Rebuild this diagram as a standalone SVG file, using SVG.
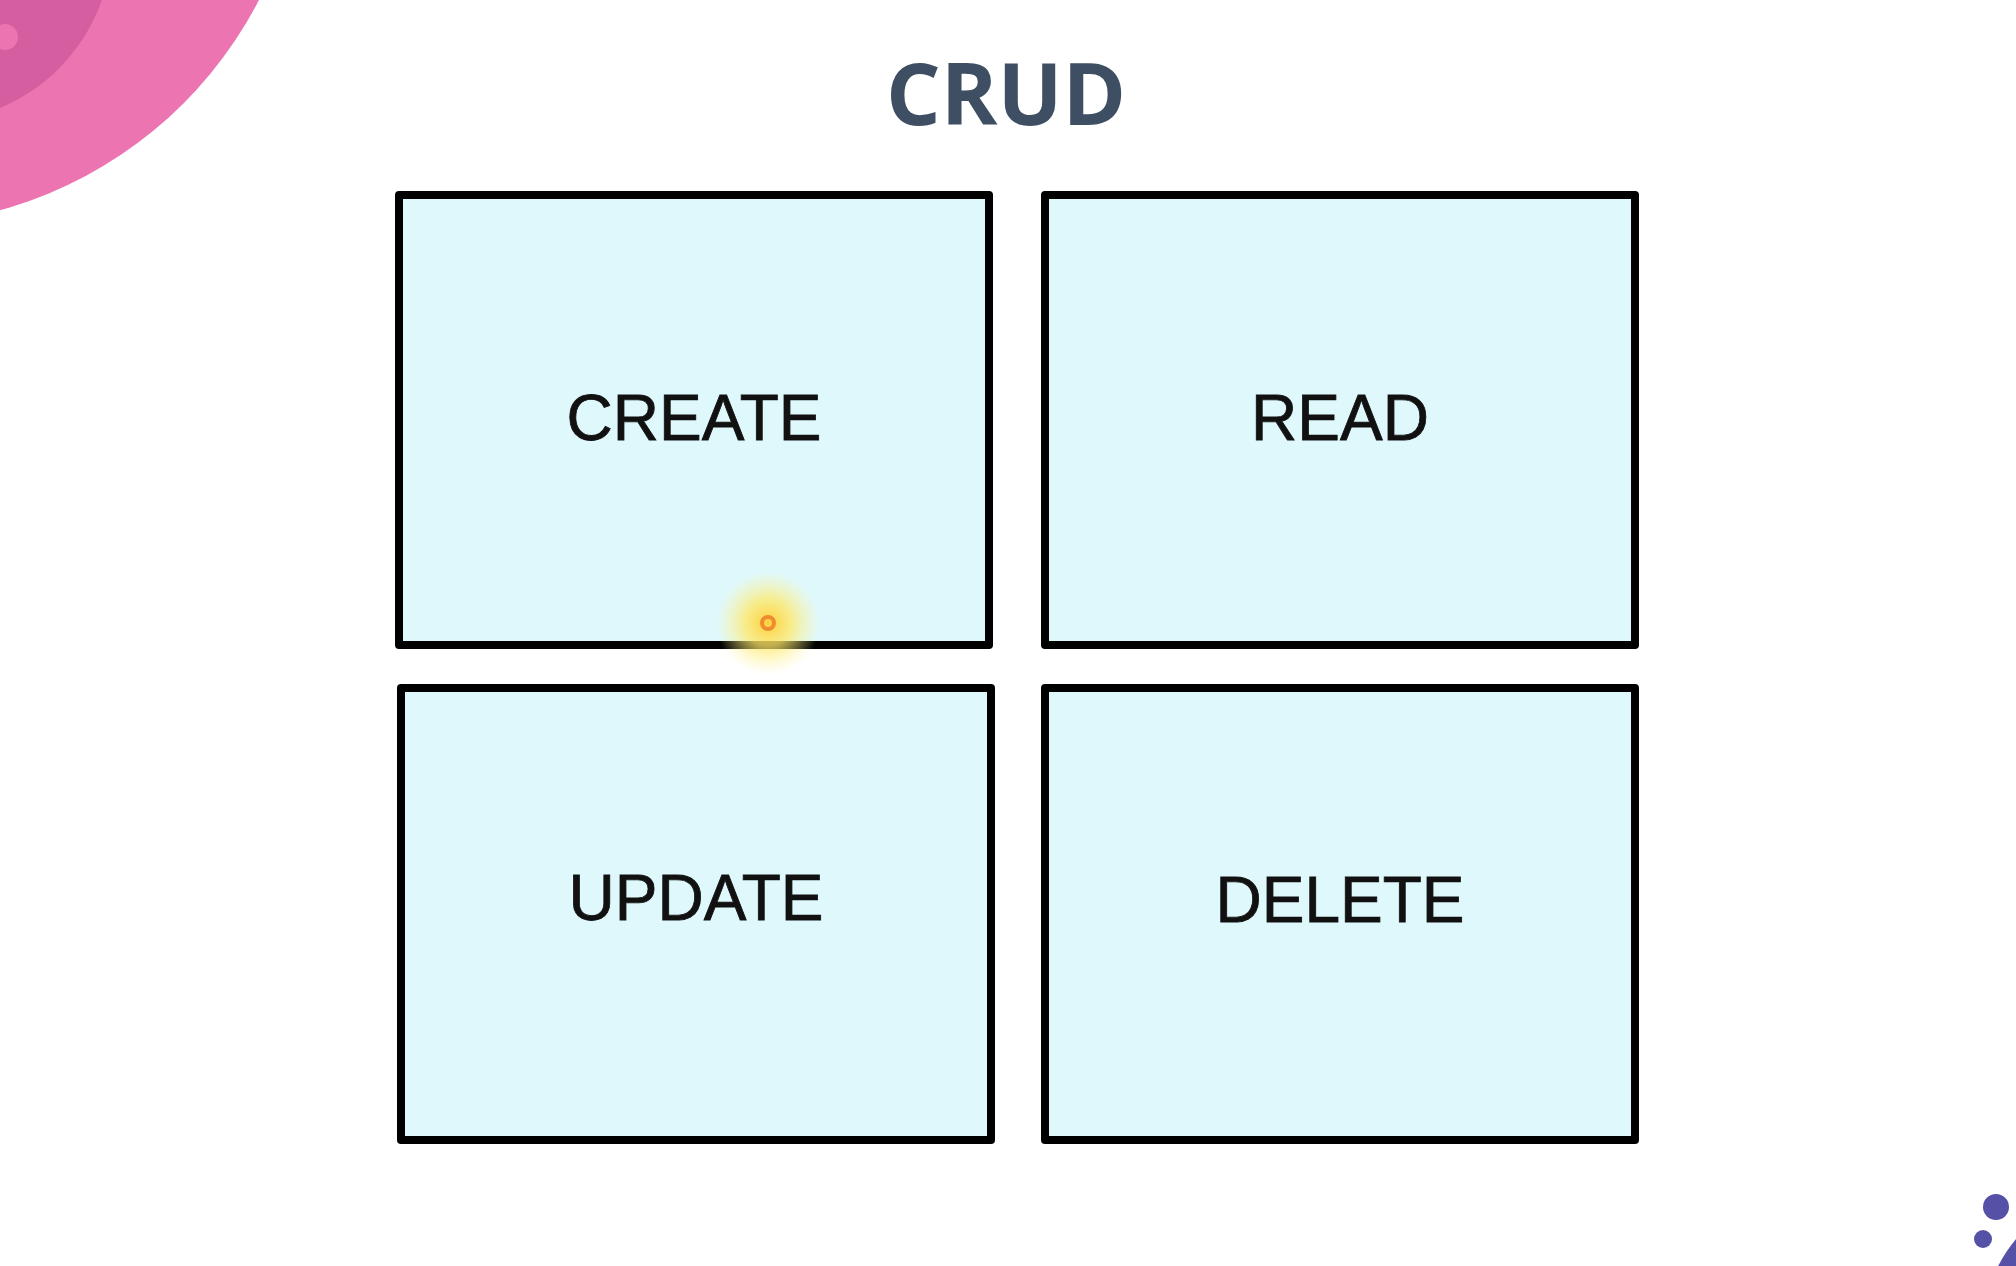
<svg xmlns="http://www.w3.org/2000/svg" width="2016" height="1266" viewBox="0 0 2016 1266">
<defs>
<style>
.box{fill:#dff8fc;stroke:#000;stroke-width:8;stroke-linejoin:round}
.lbl{font-family:"Liberation Sans",Arial,sans-serif;font-size:64px;fill:#111;stroke:#111;stroke-width:0.8;text-anchor:middle}
.title{font-family:"Open Sans","Noto Sans",sans-serif;font-weight:700;font-size:86px;fill:#3e4e63;text-anchor:middle}
</style>
<radialGradient id="glow" cx="0.5" cy="0.5" r="0.5">
<stop offset="0" stop-color="#ffcf3a" stop-opacity="1"/>
<stop offset="0.45" stop-color="#ffe866" stop-opacity="0.75"/>
<stop offset="1" stop-color="#fff59a" stop-opacity="0"/>
</radialGradient>
</defs>
<rect width="2016" height="1266" fill="#fff"/>
<g id="decor-pink">
<circle cx="-110" cy="-190" r="415" fill="#ec74b0"/>
<circle cx="-70" cy="-60" r="182" fill="#d45ea0"/>
<circle cx="5" cy="37" r="13" fill="#ec74b0"/>
</g>
<g id="decor-purple" fill="#5451a6">
<circle cx="1996" cy="1207" r="13"/>
<circle cx="1983" cy="1239" r="9"/>
<circle cx="2140" cy="1340" r="160"/>
</g>
<text class="title" x="1006" y="125">CRUD</text>
<g id="create"><rect class="box" x="399" y="195" width="590" height="450"/><text class="lbl" x="694" y="440">CREATE</text></g>
<g id="read"><rect class="box" x="1045" y="195" width="590" height="450"/><text class="lbl" x="1340" y="440">READ</text></g>
<g id="update"><rect class="box" x="401" y="688" width="590" height="452"/><text class="lbl" x="696" y="920">UPDATE</text></g>
<g id="delete"><rect class="box" x="1045" y="688" width="590" height="452"/><text class="lbl" x="1340" y="922">DELETE</text></g>
<g id="connectors"/>
<g id="cursor">
<circle cx="768" cy="623" r="52" fill="url(#glow)"/>
<circle cx="768" cy="623" r="6" fill="none" stroke="#f08a30" stroke-width="4"/>
</g>
</svg>
